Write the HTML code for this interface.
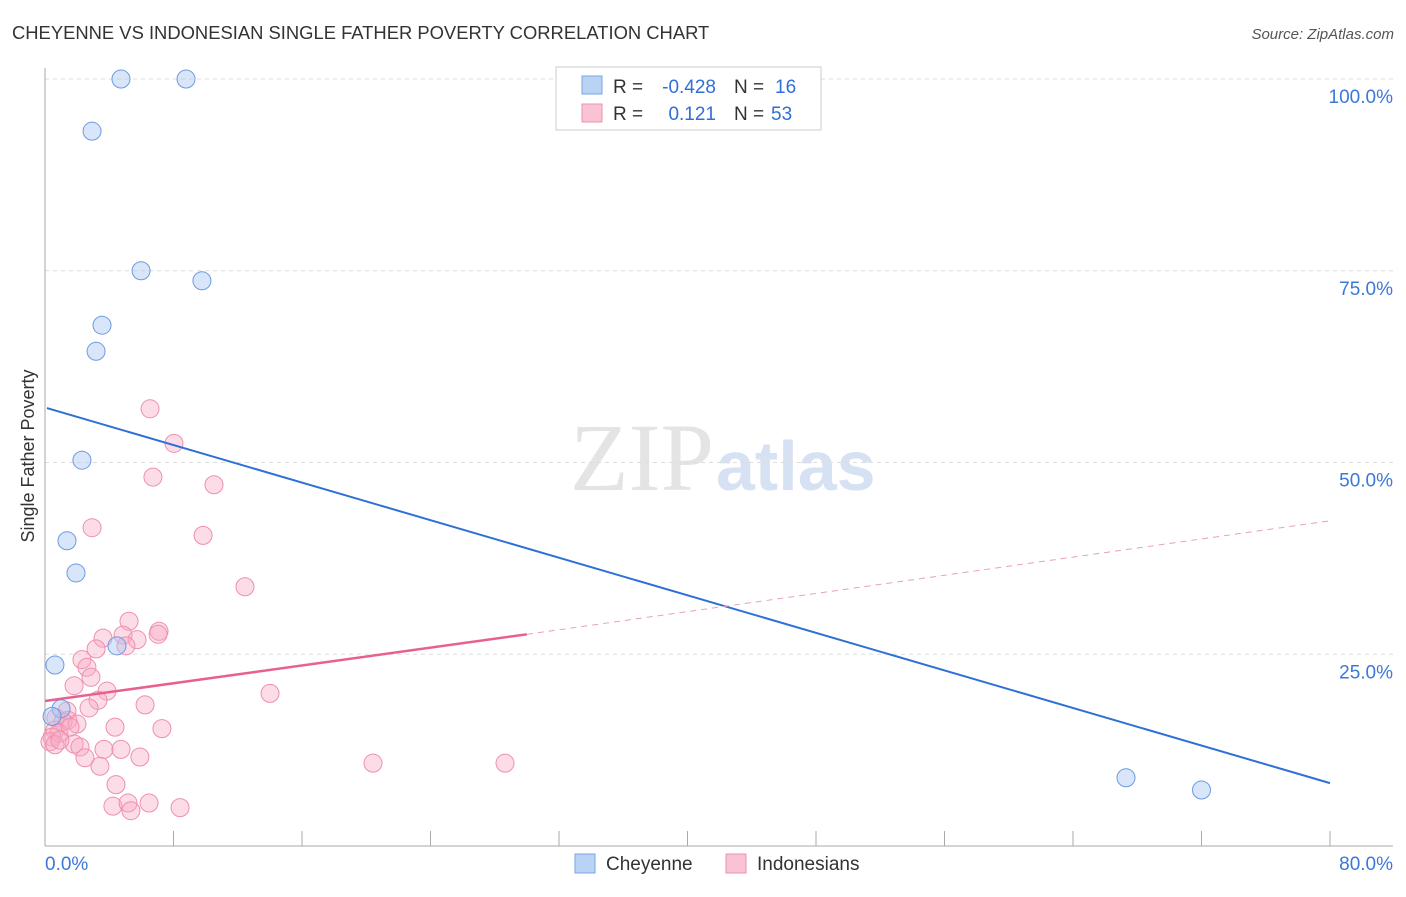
<!DOCTYPE html>
<html><head><meta charset="utf-8"><style>
body{margin:0;background:#fff;font-family:"Liberation Sans",sans-serif}
</style></head><body>
<svg id="c" width="1406" height="892" xmlns="http://www.w3.org/2000/svg">
<text x="12" y="39" font-size="18.4" fill="#333">CHEYENNE VS INDONESIAN SINGLE FATHER POVERTY CORRELATION CHART</text>
<text x="1394" y="39" font-size="15" fill="#555" font-style="italic" text-anchor="end">Source: ZipAtlas.com</text>
<text x="34" y="456" font-size="18" fill="#333" text-anchor="middle" transform="rotate(-90 34 456)">Single Father Poverty</text>
<text x="714" y="490" font-size="96" fill="#e4e4e4" text-anchor="end" font-family="Liberation Serif,serif">ZIP</text>
<text x="716" y="490" font-size="70" fill="#d6e2f3" font-weight="bold">atlas</text>
<g id="grid"></g><g id="pts"></g><g id="lines"></g>
<g>
<rect x="556" y="67" width="265" height="63" fill="#fff" stroke="#ccc"/>
<rect x="582" y="76" width="20" height="18" fill="#b9d3f5" stroke="#7aa5e0"/>
<rect x="582" y="104" width="20" height="18" fill="#fac3d3" stroke="#ee91ad"/>
<g font-size="19" fill="#333">
<text x="613" y="93">R =</text><text x="716" y="93" text-anchor="end" fill="#2f6fd8">-0.428</text>
<text x="734" y="93">N =</text><text x="775" y="93" fill="#2f6fd8">16</text>
<text x="613" y="120">R =</text><text x="716" y="120" text-anchor="end" fill="#2f6fd8">0.121</text>
<text x="734" y="120">N =</text><text x="771" y="120" fill="#2f6fd8">53</text>
</g>
</g>
<g>
<rect x="575" y="854" width="20" height="19" fill="#b9d3f5" stroke="#7aa5e0"/>
<text x="606" y="870" font-size="19" fill="#333">Cheyenne</text>
<rect x="726" y="854" width="20" height="19" fill="#fac3d3" stroke="#ee91ad"/>
<text x="757" y="870" font-size="19" fill="#333">Indonesians</text>
</g>
</svg>
<script>
const yTicks=[100,75,50,25];
const xTickLabels=["0.0%","80.0%"];
const cheX=[4.73,8.78,2.93,5.98,9.77,3.55,3.18,2.30,1.37,1.93,0.62,4.48,1.00,0.44,67.3,72.0];
const cheY=[100,100,93.2,75.0,73.7,67.9,64.5,50.3,39.8,35.6,23.6,26.1,17.9,16.9,8.9,7.3];
const indX=[6.54,8.03,6.72,10.52,2.93,9.84,12.45,5.23,7.10,7.04,3.61,4.86,5.73,5.04,2.30,3.18,2.61,2.86,1.81,3.86,14.01,3.30,2.74,6.23,1.37,0.68,1.43,1.12,1.99,4.36,7.28,0.62,0.87,0.44,0.31,0.62,1.81,2.18,3.67,4.73,2.49,5.91,3.42,20.42,28.64,4.42,4.23,5.17,6.48,8.41,5.35,1.56,0.93];
const indY=[57.0,52.5,48.1,47.1,41.5,40.5,33.8,29.3,28.0,27.6,27.1,27.5,26.9,26.1,24.3,25.7,23.3,22.0,20.9,20.2,19.9,19.0,18.0,18.4,17.6,16.7,16.4,16.2,15.9,15.5,15.3,15.1,14.7,14.2,13.6,13.2,13.3,12.9,12.6,12.6,11.5,11.6,10.4,10.8,10.8,8.0,5.2,5.6,5.6,5.0,4.6,15.5,13.8];
const cheTrend=[[0.12,57.1],[80,8.2]];
const indTrendSolid=[[0,18.9],[30,27.6]];
const indTrendDash=[[30,27.6],[80,42.4]];
const X=v=>45+v/80*1285, Y=v=>846-v/100*767;
const NS="http://www.w3.org/2000/svg";
function mk(t,a,p){const e=document.createElementNS(NS,t);for(const k in a)e.setAttribute(k,a[k]);p.appendChild(e);return e;}
const g=document.getElementById('grid');
yTicks.forEach(t=>{
 const l=mk('line',{x1:45,x2:1393,y1:Y(t),y2:Y(t),stroke:'#ddd','stroke-dasharray':'4,4'},g);
 
 
 const tx=mk('text',{x:1393,y:Y(t)+24,'font-size':19,fill:'#3b78d8','text-anchor':'end'},g);
 tx.textContent=t.toFixed(1)+'%';
 
 
});
const ax=mk('line',{x1:45,x2:45,y1:68,y2:846,stroke:'#aaa'},g);


const bx=mk('line',{x1:45,x2:1393,y1:846,y2:846,stroke:'#aaa'},g);


for(let i=0;i<=10;i++){const t=mk('line',{x1:X(i*8),x2:X(i*8),y1:831,y2:846,stroke:'#aaa'},g);
 
 }
[[0,'start',45],[80,'end',1393]].forEach((a,i)=>{const t=mk('text',{x:a[2],y:870,'font-size':19,fill:'#3b78d8','text-anchor':a[1]},g);t.textContent=xTickLabels[i];
 
 });
const p=document.getElementById('pts');
indX.forEach((x,i)=>{const c=mk('circle',{cx:X(x),cy:Y(indY[i]),r:9,fill:'rgba(247,170,195,0.4)',stroke:'#ee8fae','stroke-width':1},p);
 
 });
cheX.forEach((x,i)=>{const c=mk('circle',{cx:X(x),cy:Y(cheY[i]),r:9,fill:'rgba(170,200,243,0.45)',stroke:'#6b9be0','stroke-width':1},p);
 
 });
const L=document.getElementById('lines');
function ln(d,col,w,dash,name){const l=mk('line',{x1:X(d[0][0]),y1:Y(d[0][1]),x2:X(d[1][0]),y2:Y(d[1][1]),stroke:col,'stroke-width':w},L);if(dash)l.setAttribute('stroke-dasharray',dash);
 
 }
ln(cheTrend,'#2f6fd8',2,null,'cheyenne-trend-line');
ln(indTrendSolid,'#e8608c',2.5,null,'indonesians-trend-line');
ln(indTrendDash,'#e8a0b8',1,'6,5','indonesians-trend-extension');
</script>
</body></html>
